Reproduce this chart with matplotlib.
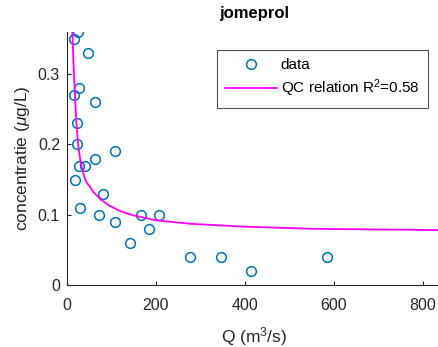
import matplotlib
matplotlib.use('Agg')
from matplotlib import pyplot as plt

plt.rcParams['font.family'] = ['Liberation Sans', 'DejaVu Sans']
plt.rcParams['mathtext.fontset'] = 'custom'
plt.rcParams['mathtext.rm'] = 'Liberation Sans'
plt.rcParams['mathtext.it'] = 'Liberation Sans:italic'

# meetpunten (Q in m3/s, concentratie in ug/L)
q_data = [15, 25, 47, 15, 28, 62, 22, 22, 107, 64, 26, 40, 17, 80, 30,
          73, 107, 142, 167, 206, 185, 277, 346, 414, 584]
c_data = [0.35, 0.36, 0.33, 0.27, 0.28, 0.26, 0.23, 0.20, 0.19, 0.18, 0.17, 0.17, 0.15, 0.13, 0.11,
          0.10, 0.09, 0.06, 0.10, 0.10, 0.08, 0.04, 0.04, 0.02, 0.04]

q_fit = [12, 14, 16, 18, 21, 25, 30, 36, 43, 50, 60, 75, 95, 120, 150, 200, 280, 400, 550, 700, 860]
c_fit = [0.36, 0.325, 0.295, 0.268, 0.232, 0.200, 0.177, 0.160, 0.147, 0.141, 0.132, 0.122, 0.113,
         0.105, 0.099, 0.092, 0.087, 0.083, 0.080, 0.079, 0.078]

blue = (0, 0.447, 0.741)

fig = plt.figure(figsize=(4.38, 3.47), dpi=100)
ax = fig.add_axes([67 / 438, 1 - 285 / 347, 374 / 438, 253 / 347])

ax.plot(q_data, c_data, 'o', mfc='none', mec=blue, mew=1.1, ms=7, label='data')
ax.plot(q_fit, c_fit, '-', color='#FF00FF', lw=1.3, label='QC relation R$^2$=0.58')

ax.set_xlim(0, 841)
ax.set_ylim(0, 0.36)
ax.set_xticks([0, 200, 400, 600, 800])
ax.set_yticks([0, 0.1, 0.2, 0.3])
ax.set_yticklabels(['0', '0.1', '0.2', '0.3'])
ax.tick_params(direction='in', length=3, labelsize=11.5, colors='#262626', pad=5)
ax.tick_params(axis='x', pad=9)
for s in ['top', 'right']:
    ax.spines[s].set_visible(False)
for s in ['left', 'bottom']:
    ax.spines[s].set_color('#262626')

ax.set_xlabel('Q (m$^3$/s)', fontsize=12.5, color='#262626', labelpad=9)
ax.set_ylabel('concentratie ($\\mu$g/L)', fontsize=12.5, color='#262626', labelpad=4)
ax.set_title('jomeprol', fontsize=12, fontweight='bold', pad=10)

leg = ax.legend(loc='upper right', bbox_to_anchor=((428 - 67) / 374, 1 - 18 / 253),
                borderaxespad=0, fontsize=11, frameon=True, fancybox=False, edgecolor='#262626',
                handlelength=3.4, borderpad=0.55, labelspacing=0.35, handletextpad=0.25)
leg.get_frame().set_linewidth(0.8)

plt.savefig('out.png', dpi=100)
